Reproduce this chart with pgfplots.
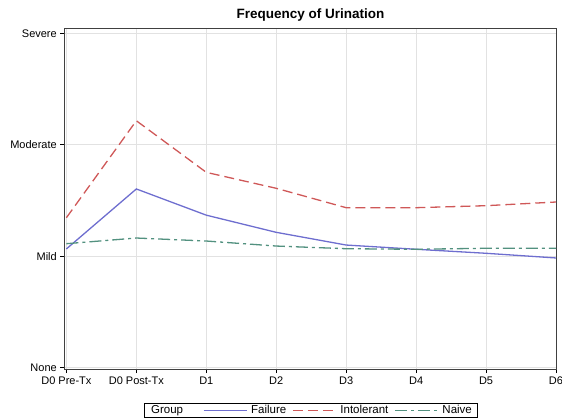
\documentclass[border=0pt]{standalone}
\usepackage{pgfplots}
\pgfplotsset{compat=1.18}
\usepackage{fontspec}
\setmainfont{Liberation Sans}
\definecolor{failblue}{HTML}{6E6ECF}
\definecolor{intred}{HTML}{CF5858}
\definecolor{naivegreen}{HTML}{52917F}
\definecolor{gridgray}{HTML}{E2E2E2}

\begin{document}
\begin{tikzpicture}
\begin{axis}[
    scale only axis,
    width=492.4bp, height=341bp,
    xmin=-0.03, xmax=7.01,
    ymin=-0.012, ymax=3.047,
    xtick={0,...,7},
    xticklabels={D0 Pre-Tx, D0 Post-Tx, D1, D2, D3, D4, D5, D6},
    ytick={0,1,2,3},
    yticklabels={None, Mild, Moderate, Severe},
    tick label style={font=\fontsize{11bp}{13bp}\selectfont},
    tick align=outside,
    xtick pos=bottom, ytick pos=left,
    major tick length=4bp,
    tick style={black, line width=0.6bp},
    grid=major,
    major grid style={gridgray, line width=0.9bp},
    axis line style={black!75, line width=0.8bp},
    title={\bfseries Frequency of Urination},
    title style={font=\fontsize{13.5bp}{16bp}\selectfont, at={(0.5,1)}, anchor=south, yshift=-3bp},
    legend columns=-1,
    legend style={at={(0.5,-0.1)}, anchor=north, draw=black, line width=0.6bp,
        font=\fontsize{11.5bp}{12bp}\selectfont, inner xsep=3bp, inner ysep=0bp,
        /tikz/every odd column/.append style={column sep=2bp},
        /tikz/every even column/.append style={column sep=4bp}},
    legend image code/.code={\draw[#1, line width=1.1bp] (0bp,0bp) -- (43bp,0bp);},
    every axis plot/.append style={line width=1.3bp},
]
\addlegendimage{empty legend}
\addlegendentry{Group\rule{14bp}{0pt}}
\addplot[failblue, solid] coordinates {
    (0,1.065) (1,1.603) (2,1.368) (3,1.214) (4,1.100) (5,1.062) (6,1.026) (7,0.984)};
\addlegendentry{Failure}
\addplot[intred, dash pattern=on 10bp off 5bp] coordinates {
    (0,1.345) (1,2.215) (2,1.752) (3,1.609) (4,1.435) (5,1.435) (6,1.453) (7,1.486)};
\addlegendentry{Intolerant}
\addplot[naivegreen, dash pattern=on 12bp off 4bp on 3bp off 4bp] coordinates {
    (0,1.112) (1,1.163) (2,1.136) (3,1.091) (4,1.067) (5,1.062) (6,1.071) (7,1.071)};
\addlegendentry{Naive}
\end{axis}
\pgfresetboundingbox
\path ([shift={(-64.3bp,-50bp)}]current axis.south west) rectangle ([shift={(5.3bp,28bp)}]current axis.north east);
\end{tikzpicture}
\end{document}
